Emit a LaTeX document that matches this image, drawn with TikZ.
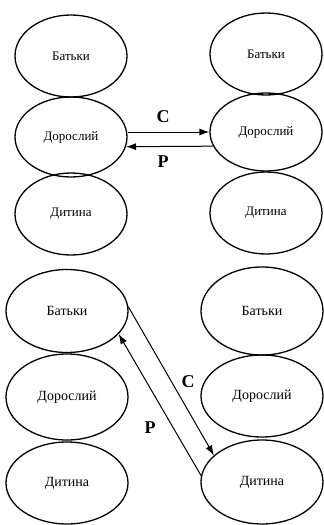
\documentclass[tikz,border=0pt]{standalone}
\usepackage{fontspec}
\setmainfont{Liberation Serif}
\usetikzlibrary{shapes.geometric,arrows.meta}
\begin{document}
\begin{tikzpicture}[x=1pt,y=-1pt,
  ell/.style={draw,ellipse,line width=1.3pt,inner sep=0pt},
  smallell/.style={ell,font=\fontsize{13}{15}\selectfont},
  bigell/.style={ell,font=\fontsize{14}{16}\selectfont},
  arr/.style={line width=1pt,-{Latex[length=10pt,width=7pt]}},
  lab/.style={font=\fontsize{18}{20}\selectfont\bfseries,inner sep=0pt}]
\useasboundingbox (0,0) rectangle (324,525);
% top group
\node[smallell,minimum width=112pt,minimum height=82pt] (tl1) at (71,56) {Батьки};
\node[smallell,minimum width=112pt,minimum height=80pt] (tl2) at (71,137) {Дорослий};
\node[smallell,minimum width=112pt,minimum height=82pt] (tl3) at (71,214) {Дитина};
\node[smallell,minimum width=112pt,minimum height=82pt] (tr1) at (266,54) {Батьки};
\node[smallell,minimum width=112pt,minimum height=78pt] (tr2) at (266,132) {Дорослий};
\node[smallell,minimum width=112pt,minimum height=82pt] (tr3) at (266,213) {Дитина};
\draw[arr] (tl2.east |- tr2.west) -- (tr2.west);
\draw[arr] (tr2.195) -- (tl2.-10.6);
\node[lab] (c1) at (163,117) {C};
\node[lab] (p1) at (163,162) {P};
% bottom group
\node[bigell,minimum width=122pt,minimum height=83pt] (bl1) at (67,311) {Батьки};
\node[bigell,minimum width=122pt,minimum height=86pt] (bl2) at (67,397) {Дорослий};
\node[bigell,minimum width=122pt,minimum height=82pt] (bl3) at (67,483) {Дитина};
\node[bigell,minimum width=122pt,minimum height=88pt] (br1) at (262,311) {Батьки};
\node[bigell,minimum width=122pt,minimum height=82pt] (br2) at (262,396) {Дорослий};
\node[bigell,minimum width=122pt,minimum height=84pt] (br3) at (262,482) {Дитина};
\draw[arr] (bl1.4.7) -- (br3.151);
\draw[arr] (br3.174.5) -- (bl1.-24.8);
\node[lab] (c2) at (188,382) {C};
\node[lab] (p2) at (150,428) {P};
\end{tikzpicture}
\end{document}
